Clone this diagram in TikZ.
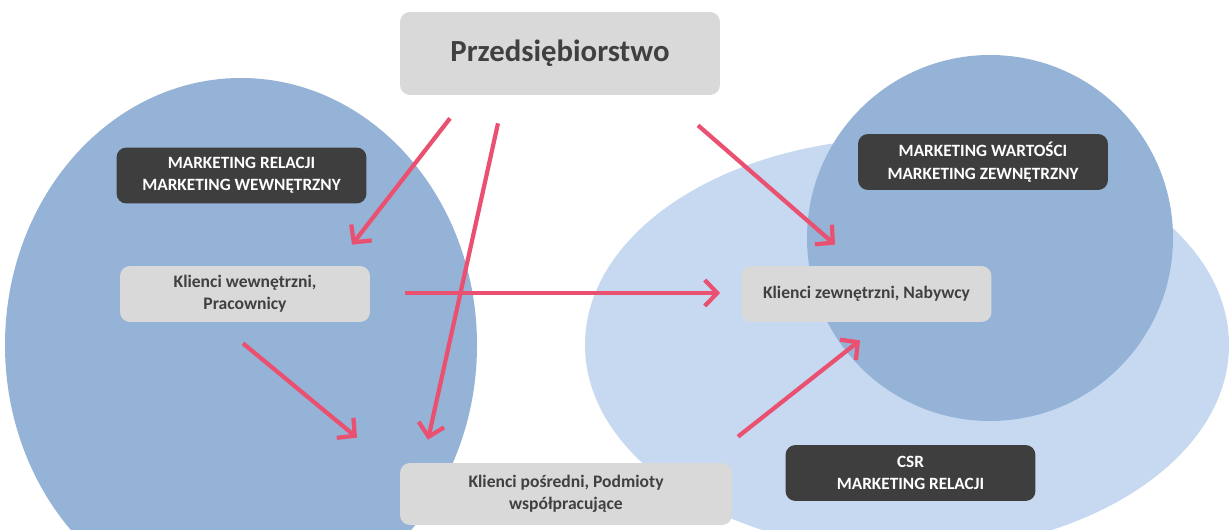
\documentclass[tikz,border=0pt]{standalone}
\usepackage{fontspec}
\setmainfont{Carlito}
\usetikzlibrary{positioning, arrows.meta}
\definecolor{niebieski}{RGB}{149,179,215}
\definecolor{jasny}{RGB}{198,217,241}
\definecolor{szary}{RGB}{217,217,217}
\definecolor{ciemny}{RGB}{62,62,62}
\definecolor{tekst}{RGB}{64,64,64}
\definecolor{rozowy}{RGB}{234,80,112}

\begin{document}
\begin{tikzpicture}[x = 0.02cm, y = -0.02cm,
		klient/.style = {fill = szary, rounded corners = 0.2cm, text = tekst, font = \bfseries\fontsize{10}{12.5}\selectfont, align = center, minimum width = 5cm, minimum height = 1.12cm, inner sep = 0},
		haslo/.style = {klient, fill = ciemny, text = white, font = \bfseries\fontsize{9.8}{12.8}\selectfont},
		strzalka/.style = {draw = rozowy, line width = 2.4pt, -{Straight Barb[length = 2.5mm, width = 5.2mm]}}]
		\clip (0, 0) rectangle (1230, 530);
		\fill[white] (0, 0) rectangle (1230, 530);
		\fill[jasny] (907, 345) ellipse (322 and 207);
		\fill[niebieski] (990, 238) circle (183);
		\fill[niebieski] (241, 345) ellipse (236 and 267);
		\node[klient, minimum width = 6.4cm, minimum height = 1.66cm, font = \bfseries\fontsize{17.5}{20}\selectfont] (prz) at (560, 53.5) {Przedsiębiorstwo};
		\node[haslo] (mrel) at (241.5, 175.5) {MARKETING RELACJI\\MARKETING WEWNĘTRZNY};
		\node[klient] (kwew) at (245, 294) {Klienci wewnętrzni,\\Pracownicy};
		\node[haslo] (mwar) at (983, 162) {MARKETING WARTOŚCI\\MARKETING ZEWNĘTRZNY};
		\node[klient] (kzew) at (866.5, 294) {Klienci zewnętrzni, Nabywcy};
		\node[haslo] (csr) at (910.5, 473) {CSR\\MARKETING RELACJI};
		\node[klient, minimum width = 6.64cm, minimum height = 1.24cm] (kpos) at (566, 494) {Klienci pośredni, Podmioty\\współpracujące};
		\draw[strzalka] ([shift = {(-110, 23)}]prz.south) -- ([shift = {(107, -21)}]kwew.north);
		\draw[strzalka] ([shift = {(-62, 28)}]prz.south) -- ([shift = {(-138, -23)}]kpos.north);
		\draw[strzalka] ([shift = {(138, 30)}]prz.south) -- ([shift = {(-31.5, -21)}]kzew.north);
		\draw[strzalka] ([shift = {(35, -1)}]kwew.east) -- ([shift = {(-21, -1)}]kzew.west);
		\draw[strzalka] ([shift = {(-2, 21)}]kwew.south) -- ([shift = {(-209, -25)}]kpos.north);
		\draw[strzalka] ([shift = {(172, -26)}]kpos.north) -- ([shift = {(-6.5, 18)}]kzew.south);
\end{tikzpicture}
\end{document}
